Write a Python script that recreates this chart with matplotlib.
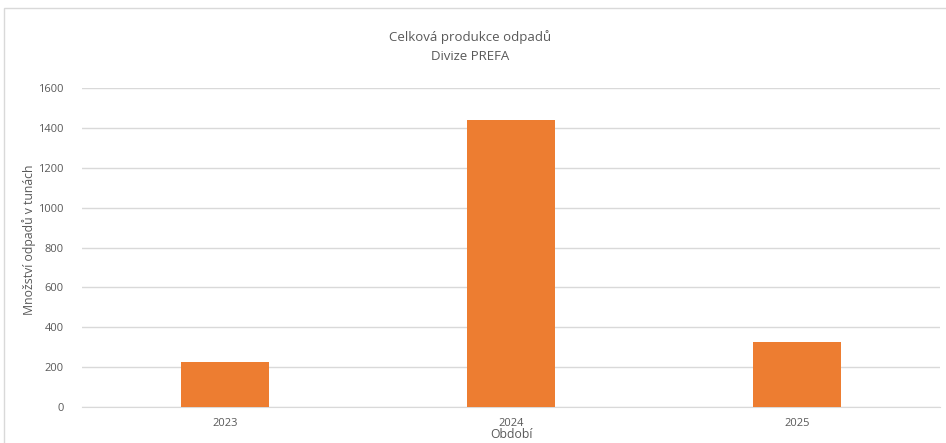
import matplotlib.pyplot as plt
from matplotlib.patches import Rectangle

roky = ["2023", "2024", "2025"]
odpady = [226, 1439, 326]

plt.rcParams['font.family'] = ['Open Sans', 'DejaVu Sans']
seda = "#595959"

fig = plt.figure(figsize=(9.46, 4.43), dpi=100)
fig.patches.append(Rectangle((4 / 946, -0.1), 1.0, 1 - 8 / 443 + 0.1, transform=fig.transFigure,
                             fill=False, edgecolor="#d9d9d9", linewidth=1))

ax = fig.add_axes([82 / 946, 1 - 407 / 443, 858 / 946, 319 / 443])
x = range(len(roky))
ax.bar(x, odpady, width=0.31, color="#ed7d31", zorder=3)
ax.set_xlim(-0.5, 2.5)
ax.set_ylim(0, 1600)
ax.set_yticks(range(0, 1601, 200))
ax.set_xticks(list(x))
ax.set_xticklabels(roky)
ax.grid(axis="y", color="#d9d9d9", linewidth=1, zorder=0)
for s in ["top", "right", "left"]:
    ax.spines[s].set_visible(False)
ax.spines["bottom"].set_color("#d9d9d9")
ax.tick_params(length=0, colors=seda, labelsize=8)
ax.tick_params(axis="y", pad=13)
ax.tick_params(axis="x", pad=8)

fig.text(29 / 946, 1 - 240 / 443, "Množství odpadů v tunách", rotation=90, ha="center",
         va="center", color=seda, fontsize=8.8)
fig.text(0.497, 1 - 37 / 443, "Celková produkce odpadů", ha="center", va="center",
         color=seda, fontsize=9.5)
fig.text(0.497, 1 - 56 / 443, "Divize PREFA", ha="center", va="center",
         color=seda, fontsize=9.5)
fig.text(511 / 946, 1 - 435 / 443, "Období", ha="center", va="center",
         color=seda, fontsize=8.8)

fig.savefig("out.png", dpi=100)
